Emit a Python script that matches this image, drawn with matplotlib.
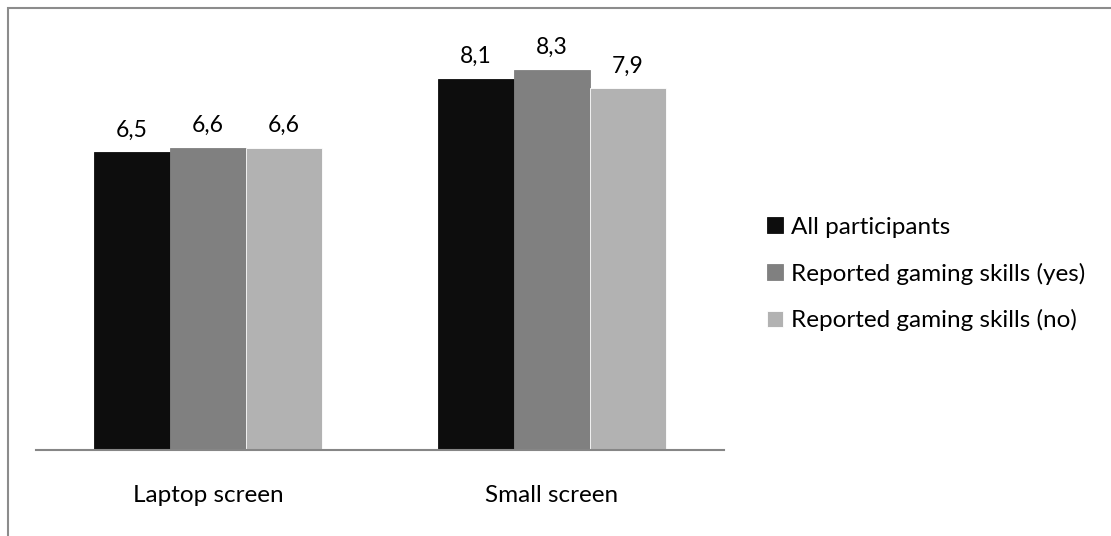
import numpy as np
import matplotlib.pyplot as plt
from matplotlib.patches import Rectangle

# Dados do gráfico
categories = ['Laptop screen', 'Small screen']
series_names = ['All participants', 'Reported gaming skills (yes)', 'Reported gaming skills (no)']
all_participants = [6.5, 8.1]
gaming_yes = [6.6, 8.3]
gaming_no = [6.6, 7.9]

series_values = [all_participants, gaming_yes, gaming_no]
colors = ['#0d0d0d', '#808080', '#b2b2b2']

plt.rcParams['font.family'] = ['Lato', 'DejaVu Sans']

W, H = 1111, 536
fig = plt.figure(figsize=(W / 100, H / 100), dpi=100)

# moldura cinza (cortada à direita e embaixo)
fig.patches.append(Rectangle((8 / W, -0.2), 1.3, (H - 8) / H + 0.2,
                             transform=fig.transFigure, fill=False,
                             edgecolor='#8c8c8c', linewidth=1.5, clip_on=False))

ax = fig.add_axes([36 / W, 86 / H, (724 - 36) / W, (450 - 38) / H])

x = np.arange(len(categories))
bar_w = 0.221
for i, (name, vals) in enumerate(zip(series_names, series_values)):
    pos = x + (i - 1) * bar_w
    bars = ax.bar(pos, vals, width=bar_w, color=colors[i], label=name,
                  edgecolor='white' if i == 2 else colors[i], linewidth=0.6)
    for b, v in zip(bars, vals):
        ax.annotate(f'{v:.1f}'.replace('.', ','),
                    xy=(b.get_x() + b.get_width() / 2, v),
                    xytext=(0, 11.5), textcoords='offset points',
                    ha='center', va='baseline', fontsize=16.5)

ax.set_xlim(-0.5, 1.5)
ax.set_ylim(0, 9)
ax.set_yticks([])
ax.set_xticks(x)
ax.set_xticklabels(categories, fontsize=17.5)
ax.tick_params(axis='x', length=0, pad=25)
for s in ['top', 'right', 'left']:
    ax.spines[s].set_visible(False)
ax.spines['bottom'].set_color('#868686')
ax.spines['bottom'].set_linewidth(1.5)

leg = fig.legend(loc='upper left', bbox_to_anchor=(757 / W, (H - 207) / H),
                 frameon=False, fontsize=17.5, handlelength=0.66, handleheight=0.66,
                 handletextpad=0.35, labelspacing=1.02, borderaxespad=0)

fig.savefig('out.png', dpi=100)
